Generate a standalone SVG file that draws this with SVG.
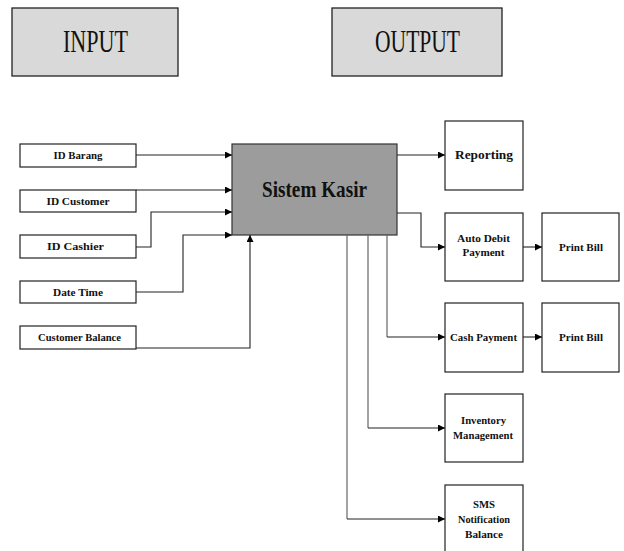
<svg xmlns="http://www.w3.org/2000/svg" width="624" height="551" viewBox="0 0 624 551">
<defs>
<marker id="ah" viewBox="0 0 10 10" refX="10" refY="5" markerWidth="7" markerHeight="7" markerUnits="userSpaceOnUse" orient="auto">
<path d="M0,0 L10,5 L0,10 z" fill="#000"/>
</marker>
<style>
.hdr{fill:#d9d9d9;stroke:#222;stroke-width:1.3}
.box{fill:#fff;stroke:#222;stroke-width:1.2}
.main{fill:#9c9c9c;stroke:#333;stroke-width:1.2}
.t{font-family:"Liberation Serif","Times New Roman",serif;fill:#111;text-anchor:middle}
.h{font-size:32px}
.s{font-size:10px;font-weight:bold}
.o{font-size:10px;font-weight:bold}
.c{fill:none;stroke:#222;stroke-width:1.1}
.g{fill:none;stroke:#666;stroke-width:1.2}
</style>
</defs>
<g id="input-header"><rect class="hdr" x="12" y="8" width="166" height="68"/><text class="t h" x="95.5" y="52" textLength="65" lengthAdjust="spacingAndGlyphs">INPUT</text></g>
<g id="output-header"><rect class="hdr" x="332" y="8" width="170" height="68"/><text class="t h" x="417.5" y="52" textLength="85" lengthAdjust="spacingAndGlyphs">OUTPUT</text></g>
<g id="id-barang"><rect class="box" x="20" y="144" width="116" height="23"/><text class="t s" x="78" y="159" textLength="49" lengthAdjust="spacingAndGlyphs">ID Barang</text></g>
<g id="id-customer"><rect class="box" x="20" y="190" width="116" height="22"/><text class="t s" x="78" y="204.5" textLength="63" lengthAdjust="spacingAndGlyphs">ID Customer</text></g>
<g id="id-cashier"><rect class="box" x="20" y="235" width="116" height="23"/><text class="t s" x="75.5" y="250" textLength="57" lengthAdjust="spacingAndGlyphs">ID Cashier</text></g>
<g id="date-time"><rect class="box" x="20" y="281" width="116" height="22"/><text class="t s" x="78" y="295.5" textLength="50" lengthAdjust="spacingAndGlyphs">Date Time</text></g>
<g id="customer-balance"><rect class="box" x="20" y="326" width="116" height="23"/><text class="t s" x="79.5" y="341" textLength="83" lengthAdjust="spacingAndGlyphs">Customer Balance</text></g>
<g id="sistem-kasir"><rect class="main" x="232" y="144" width="165" height="91"/><text class="t" x="314.5" y="197" font-size="23" font-weight="bold" textLength="105" lengthAdjust="spacingAndGlyphs">Sistem Kasir</text></g>
<g id="reporting"><rect class="box" x="445" y="121" width="78" height="69"/><text class="t" x="484" y="159" font-size="12" font-weight="bold" textLength="58" lengthAdjust="spacingAndGlyphs">Reporting</text></g>
<g id="auto-debit"><rect class="box" x="445" y="213" width="78" height="68"/><text class="t o" x="483.5" y="241.5" textLength="53" lengthAdjust="spacingAndGlyphs">Auto Debit</text><text class="t o" x="483.5" y="256" textLength="42" lengthAdjust="spacingAndGlyphs">Payment</text></g>
<g id="print-bill-1"><rect class="box" x="542" y="213" width="77" height="68"/><text class="t o" x="581" y="250.5" textLength="44" lengthAdjust="spacingAndGlyphs">Print Bill</text></g>
<g id="cash-payment"><rect class="box" x="445" y="303" width="78" height="69"/><text class="t o" x="483.5" y="340.5" textLength="67" lengthAdjust="spacingAndGlyphs">Cash Payment</text></g>
<g id="print-bill-2"><rect class="box" x="542" y="303" width="77" height="69"/><text class="t o" x="581" y="340.5" textLength="44" lengthAdjust="spacingAndGlyphs">Print Bill</text></g>
<g id="inventory"><rect class="box" x="445" y="394" width="78" height="68"/><text class="t o" x="483.5" y="423.5" textLength="45" lengthAdjust="spacingAndGlyphs">Inventory</text><text class="t o" x="483" y="439" textLength="60" lengthAdjust="spacingAndGlyphs">Management</text></g>
<g id="sms"><rect class="box" x="445" y="485" width="78" height="80"/><text class="t o" x="484" y="507.5" textLength="22" lengthAdjust="spacingAndGlyphs">SMS</text><text class="t o" x="484" y="523" textLength="52" lengthAdjust="spacingAndGlyphs">Notification</text><text class="t o" x="484" y="537.5" textLength="38" lengthAdjust="spacingAndGlyphs">Balance</text></g>
<g id="connectors">
<path class="c" d="M136,155 H232" marker-end="url(#ah)"/>
<path class="c" d="M136,190 H232" marker-end="url(#ah)"/>
<path class="c" d="M136,247 H151 V212 H232" marker-end="url(#ah)"/>
<path class="c" d="M136,292 H183 V235 H232" marker-end="url(#ah)"/>
<path class="c" d="M136,348 H250 V235" marker-end="url(#ah)"/>
<path class="c" d="M397,155 H445" marker-end="url(#ah)"/>
<path class="c" d="M397,213 H421 V247 H445" marker-end="url(#ah)"/>
<path class="c" d="M523,247 H542" marker-end="url(#ah)"/>
<path class="g" d="M387,235 V337"/><path class="c" d="M387,337 H445" marker-end="url(#ah)"/>
<path class="c" d="M523,337 H542" marker-end="url(#ah)"/>
<path class="g" d="M368,235 V428"/><path class="c" d="M368,428 H445" marker-end="url(#ah)"/>
<path class="g" d="M347,235 V519"/><path class="c" d="M347,519 H445" marker-end="url(#ah)"/>
</g>
</svg>
